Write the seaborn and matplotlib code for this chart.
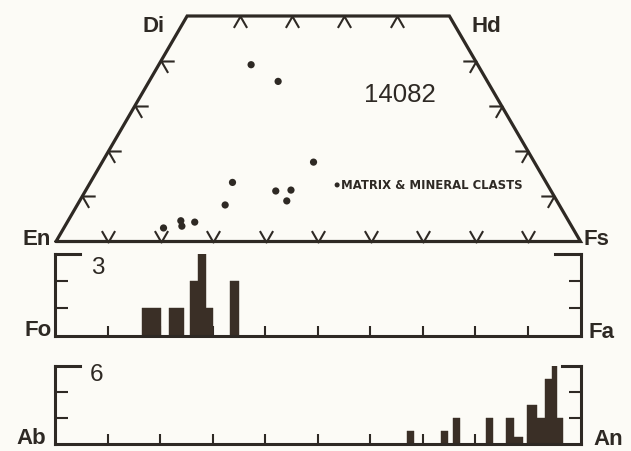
import numpy as np
import pandas as pd
import matplotlib
matplotlib.use("Agg")
import matplotlib.pyplot as plt
from matplotlib.path import Path
import seaborn as sns

# Pyroxene analyses, sample 14082 (mol % Wo and Fs)
px_wo = [39.2, 35.5, 17.6, 13.1, 11.2, 11.4, 9.0, 8.1, 4.3, 4.6, 3.4, 3.0]
px_fs = [17.6, 24.6, 40.3, 27.1, 36.3, 39.1, 39.5, 28.2, 24.3, 21.5, 22.3, 19.0]

# Olivine histogram (mol % Fa): bar left edge, right edge, count
ol_lo = [16.6, 21.7, 25.6, 27.2, 28.8, 33.3]
ol_hi = [20.1, 24.6, 27.2, 28.8, 30.0, 35.1]
ol_n = [1, 1, 2, 3, 1, 2]

# Plagioclase histogram (mol % An): bar left edge, right edge, count
pl_lo = [67.0, 73.5, 75.7, 82.0, 85.9, 87.4, 89.9, 91.8, 93.3, 94.5, 95.6]
pl_hi = [68.3, 74.8, 77.1, 83.4, 87.4, 89.0, 91.8, 93.3, 94.5, 95.6, 96.7]
pl_n = [1, 1, 2, 2, 2, 0.5, 3, 2, 5, 6, 2]

ol_max, pl_max = 3, 6
ol_yticks = [1, 2]
pl_yticks = [2, 4]
comp_ticks = [10, 20, 30, 40, 50, 60, 70, 80, 90]
wo_ticks = [10, 20, 30, 40]
top_fs_ticks = [10, 20, 30, 40]

sample_label = "14082"
legend_label = "MATRIX & MINERAL CLASTS"
corner_labels = ["Di", "Hd", "En", "Fs"]
ol_labels = ["Fo", "Fa"]
pl_labels = ["Ab", "An"]

BG = "#fcfbf6"
INK = "#2e2924"
BAR = "#3a2f26"

sns.set_theme(style="white")
plt.rcParams["font.family"] = ["Liberation Sans", "DejaVu Sans"]

W, H = 631, 452
fig = plt.figure(figsize=(W / 100, H / 100), dpi=100, facecolor=BG)


def px_axes(left, top, right, bottom):
    ax = fig.add_axes([left / W, 1 - bottom / H, (right - left) / W, (bottom - top) / H])
    ax.patch.set_alpha(0)
    return ax


def px_text(x, y, s, **kw):
    fig.text(x / W, 1 - y / H, s, ha="center", va="baseline", color=INK, **kw)


SQ = np.sqrt(3) / 2


def project(fs, wo):
    fs = np.asarray(fs, float)
    wo = np.asarray(wo, float)
    return fs + wo / 2, wo * SQ


def arm_marker(a1, a2, arm_pt):
    v = np.array([[np.cos(np.radians(a1)), np.sin(np.radians(a1))],
                  [0.0, 0.0],
                  [np.cos(np.radians(a2)), np.sin(np.radians(a2))]])
    m = np.abs(v).max()
    return Path(v, [Path.MOVETO, Path.LINETO, Path.LINETO]), 2 * arm_pt * m


# ---- pyroxene quadrilateral ----
axq = px_axes(56, 17, 580.5, 242.5)
axq.set_xlim(0, 100)
axq.set_ylim(0, 50 * SQ)
axq.axis("off")

qx, qy = project([0, 100, 50, 0, 0], [0, 0, 50, 50, 0])
axq.plot(qx, qy, color=INK, lw=2.3, solid_joinstyle="miter", clip_on=False)

arm = 9.5
edges = [
    (comp_ticks, [0] * len(comp_ticks), 60, 120),                         # En-Fs
    (top_fs_ticks, [50] * len(top_fs_ticks), -60, -120),                  # Di-Hd
    ([0] * len(wo_ticks), wo_ticks, 0, -60),                              # En-Di
    ([100 - w for w in wo_ticks], wo_ticks, 180, 240),                    # Fs-Hd
]
for fs, wo, a1, a2 in edges:
    mk, ms = arm_marker(a1, a2, arm)
    tx, ty = project(fs, wo)
    axq.plot(tx, ty, ls="none", marker=mk, ms=ms, mew=1.5, mec=INK,
             mfc="none", clip_on=False)

px_x, px_y = project(px_fs, px_wo)
px_df = pd.DataFrame({"x": px_x, "y": px_y})
sns.scatterplot(data=px_df, x="x", y="y", ax=axq, color=INK, s=27,
                edgecolor="none", label=legend_label, clip_on=False)
axq.legend(loc="center left",
           bbox_to_anchor=((334.5 - 56) / 524.5, (242.5 - 185.5) / 225.5),
           frameon=False, handlelength=0.45, handletextpad=0.12, borderpad=0,
           borderaxespad=0, markerscale=0.7,
           prop={"family": "DejaVu Sans", "size": 8.4, "weight": "bold"})
for t in axq.get_legend().get_texts():
    t.set_color(INK)

px_text(400, 102, sample_label, fontsize=18.5)
for (x, y), s in zip([(154, 32), (486, 32), (37, 245), (596, 245)], corner_labels):
    px_text(x, y, s, fontsize=16, fontweight="bold")


# ---- histograms ----
def hist_panel(top, bottom, lo, hi, n, ymax, yticks, top_right, count_label,
               label_pos, end_labels, end_pos):
    ax = px_axes(55, top, 580.5, bottom)
    bins = sorted(set(lo) | set(hi))
    df = pd.DataFrame({"mid": (np.asarray(lo) + np.asarray(hi)) / 2,
                       "count": np.asarray(n, float)})
    sns.histplot(data=df, x="mid", weights="count", bins=bins, ax=ax,
                 color=BAR, alpha=1, edgecolor=BAR, linewidth=0.3)
    ax.set_xlim(0, 100)
    ax.set_ylim(0, ymax)
    ax.set_xlabel("")
    ax.set_ylabel("")
    ax.set_xticks(comp_ticks)
    ax.set_yticks(yticks)
    ax.tick_params(axis="x", direction="in", length=7, width=1.5, color=INK,
                   bottom=True, top=False, labelbottom=False)
    ax.tick_params(axis="y", direction="in", length=9, width=1.5, color=INK,
                   left=True, right=True, labelleft=False, labelright=False)
    ax.spines["top"].set_visible(False)
    for s in ("left", "right", "bottom"):
        ax.spines[s].set_linewidth(2.2)
        ax.spines[s].set_color(INK)
    ax.grid(False)
    ax.plot([0, 0.048], [1, 1], transform=ax.transAxes, color=INK, lw=2.2,
            solid_capstyle="projecting", clip_on=False)
    ax.plot([top_right, 1], [1, 1], transform=ax.transAxes, color=INK, lw=2.2,
            solid_capstyle="projecting", clip_on=False)
    px_text(*label_pos, count_label, fontsize=17.5)
    for (x, y), s in zip(end_pos, end_labels):
        px_text(x, y, s, fontsize=16, fontweight="bold")
    return ax


hist_panel(255, 336.5, ol_lo, ol_hi, ol_n, ol_max, ol_yticks, 0.952,
           str(ol_max), (98, 274), ol_labels, [(38, 335.5), (602, 337.5)])
hist_panel(367, 444.5, pl_lo, pl_hi, pl_n, pl_max, pl_yticks, 0.965,
           str(pl_max), (97, 381), pl_labels, [(31, 444.5), (608, 445.5)])

fig.savefig("out.png", dpi=100, facecolor=BG)
